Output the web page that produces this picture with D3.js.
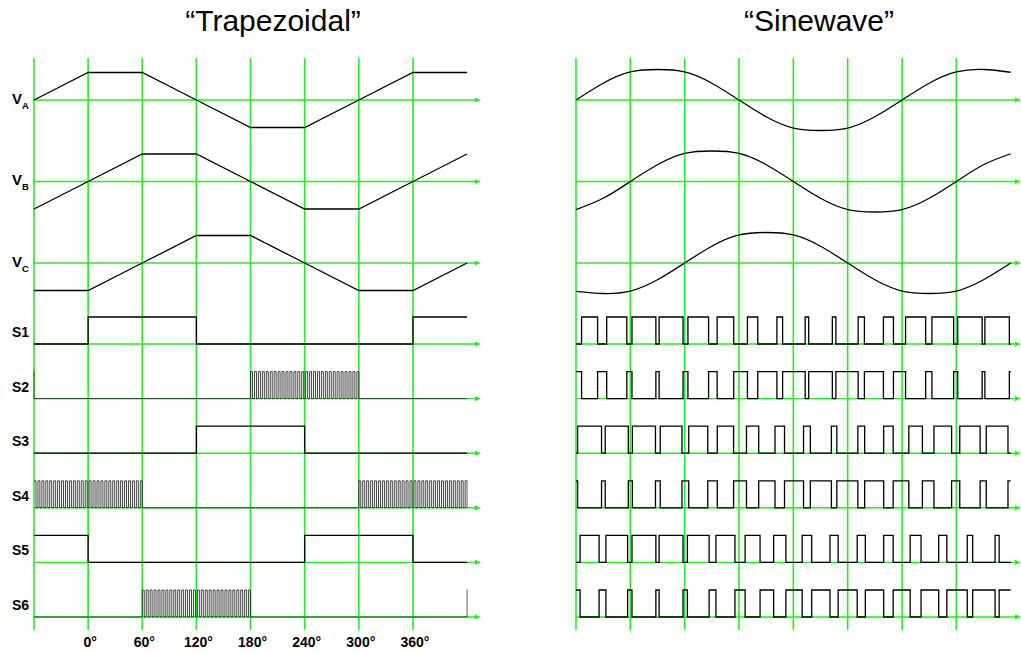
<!DOCTYPE html>
<html>
<head>
<meta charset="utf-8">
<script src="https://d3js.org/d3.v7.min.js"></script>
<style>
    body { margin: 0; background: #fff; }
    svg { display: block; font-family: "Liberation Sans", Arial, sans-serif; }
</style>
</head>
<body>
<svg id="chart" width="1021" height="651"></svg>
<script>
    // electrical angle, degrees
    const gridAngles = [-60, 0, 60, 120, 180, 240, 300, 360];
    const tickAngles = [0, 60, 120, 180, 240, 300, 360];
    const tickLabels = ['0°', '60°', '120°', '180°', '240°', '300°', '360°'];

    const phaseNames = ['A', 'B', 'C'];
    const switchNames = ['S1', 'S2', 'S3', 'S4', 'S5', 'S6'];

    // trapezoidal back emf, corner points
    const trapAngles = [-60, 0, 60, 120, 180, 240, 300, 360, 420];
    const trapVA = [0, 1, 1, 0, -1, -1, 0, 1, 1];
    const trapVB = [-1, 0, 1, 1, 0, -1, -1, 0, 1];
    const trapVC = [-1, -1, 0, 1, 1, 0, -1, -1, 0];

    // sinewave, read every 30 deg
    const sineAngles = [-60, -30, 0, 30, 60, 90, 120, 150, 180, 210, 240, 270, 300, 330, 360, 390, 420];
    const sineVA = [0, 0.55, 0.92, 1, 0.92, 0.55, 0, -0.55, -0.92, -1, -0.92, -0.55, 0, 0.55, 0.92, 1, 0.91];
    const sineVB = [-0.92, -0.55, 0, 0.55, 0.92, 1, 0.92, 0.55, 0, -0.55, -0.92, -1, -0.92, -0.55, 0, 0.55, 0.91];
    const sineVC = [-0.93, -1, -0.92, -0.55, 0, 0.55, 0.92, 1, 0.92, 0.55, 0, -0.55, -0.92, -1, -0.92, -0.55, 0];

    // six-step commutation: [from, to, state]  0 off, 1 on, 2 chopped
    const trapS1 = [[-60, 0, 0], [0, 120, 1], [120, 360, 0], [360, 420, 1]];
    const trapS2 = [[-180, -60, 2], [-60, 180, 0], [180, 300, 2], [300, 420, 0]];
    const trapS3 = [[-60, 120, 0], [120, 240, 1], [240, 420, 0]];
    const trapS4 = [[-60, 60, 2], [60, 300, 0], [300, 420, 2]];
    const trapS5 = [[-60, 0, 1], [0, 240, 0], [240, 360, 1], [360, 420, 0]];
    const trapS6 = [[-60, 60, 0], [60, 180, 2], [180, 420, 0], [420, 540, 2]];
    const chopPulses = 28; // per 120 deg

    // sine PWM: pulse width as a fraction of each 30 deg carrier cell
    // S2, S4, S6 are drawn low for that width (complementary)
    const pwmS1 = [0.59, 0.74, 0.88, 0.88, 0.76, 0.61, 0.38, 0.21, 0.13, 0.13, 0.23, 0.37, 0.74, 0.8, 0.9, 0.9];
    const pwmS2 = [0.59, 0.74, 0.88, 0.88, 0.76, 0.61, 0.38, 0.21, 0.13, 0.13, 0.23, 0.37, 0.74, 0.8, 0.9, 0.9];
    const pwmS3 = [0.88, 0.85, 0.85, 0.8, 0.7, 0.6, 0.45, 0.35, 0.25, 0.2, 0.25, 0.35, 0.5, 0.65, 0.75, 0.8];
    const pwmS4 = [0.88, 0.85, 0.85, 0.8, 0.7, 0.6, 0.45, 0.35, 0.25, 0.2, 0.25, 0.35, 0.5, 0.65, 0.75, 0.8];
    const pwmS5 = [0.7, 0.8, 0.88, 0.88, 0.8, 0.7, 0.55, 0.45, 0.35, 0.3, 0.3, 0.35, 0.4, 0.3, 0.2, 0.15];
    const pwmS6 = [0.7, 0.8, 0.88, 0.88, 0.8, 0.7, 0.55, 0.45, 0.35, 0.3, 0.3, 0.35, 0.4, 0.3, 0.2, 0.15];

    const green = '#22ee22';
    const svg = d3.select('#chart');

    const xL = d3.scaleLinear().domain([-60, 420]).range([34, 467.1]);
    const xR = d3.scaleLinear().domain([-60, 420]).range([576, 1010.7]);
    const yPhase = d3.scalePoint().domain(phaseNames).range([100, 263]);
    const ySwitch = d3.scalePoint().domain(switchNames).range([344, 617]);
    const trapAmp = d3.scaleLinear().domain([-1, 1]).range([27.5, -27.5]);
    const sineAmp = d3.scaleLinear().domain([-1, 1]).range([30.5, -30.5]);
    const level = d3.scaleLinear().domain([0, 1]).range([0, -27]);

    // titles
    svg.selectAll('text.title')
        .data([['\u201cTrapezoidal\u201d', 273], ['\u201cSinewave\u201d', 819]])
        .join('text')
        .attr('class', 'title')
        .attr('x', d => d[1])
        .attr('y', 31)
        .attr('text-anchor', 'middle')
        .attr('font-size', 30)
        .text(d => d[0]);

    function drawGrid(x, arrowTip) {
        const g = svg.append('g');
        g.selectAll('line.v')
            .data(gridAngles)
            .join('line')
            .attr('class', 'v')
            .attr('x1', d => x(d)).attr('x2', d => x(d))
            .attr('y1', 58).attr('y2', 630)
            .attr('stroke', green)
            .attr('stroke-width', 1.6);

        const rows = phaseNames.map(yPhase).concat(switchNames.map(ySwitch));
        g.selectAll('line.h')
            .data(rows)
            .join('line')
            .attr('class', 'h')
            .attr('x1', x(-60)).attr('x2', arrowTip - 4)
            .attr('y1', d => d).attr('y2', d => d)
            .attr('stroke', green)
            .attr('stroke-width', 1.4);
        g.selectAll('path')
            .data(rows)
            .join('path')
            .attr('d', d => `M${arrowTip},${d}L${arrowTip - 6},${d - 2.6}L${arrowTip - 6},${d + 2.6}Z`)
            .attr('fill', green);
    }

    drawGrid(xL, 481);
    drawGrid(xR, 1021);

    // phase voltages
    const trapData = [trapVA, trapVB, trapVC];
    const sineData = [sineVA, sineVB, sineVC];

    phaseNames.forEach((p, k) => {
        const y0 = yPhase(p);
        svg.append('path')
            .attr('d', d3.line()
                .x((d, i) => xL(trapAngles[i]))
                .y(d => y0 + trapAmp(d))(trapData[k]))
            .attr('fill', 'none')
            .attr('stroke', '#000')
            .attr('stroke-width', 1.3);

        svg.append('path')
            .attr('d', d3.line()
                .curve(d3.curveNatural)
                .x((d, i) => xR(sineAngles[i]))
                .y(d => y0 + sineAmp(d))(sineData[k]))
            .attr('fill', 'none')
            .attr('stroke', '#000')
            .attr('stroke-width', 1.3);

        const lab = svg.append('text')
            .attr('x', 12)
            .attr('y', y0 + 3.5)
            .attr('font-weight', 'bold')
            .attr('font-size', 15);
        lab.append('tspan').text('V');
        lab.append('tspan').attr('font-size', 9.5).attr('dy', 5).text(p);
    });

    // switch signals, left: six-step with chopping
    svg.append('clipPath').attr('id', 'clipL')
        .append('rect')
        .attr('x', xL(-60) - 0.7).attr('y', 0)
        .attr('width', xL(420) - xL(-60) + 1.4).attr('height', 651);

    function sixStepPoints(segs) {
        const pts = [];
        segs.forEach(([a0, a1, s]) => {
            if (s < 2) {
                pts.push([a0, s]);
            } else {
                const n = 2 * chopPulses * (a1 - a0) / 120;
                for (let i = 0; i < n; i++) pts.push([a0 + i * (a1 - a0) / (n - 1), i % 2 ? 0 : 1]);
            }
        });
        const last = segs[segs.length - 1];
        pts.push([last[1], pts[pts.length - 1][1]]);
        return pts;
    }

    function carrierPoints(widths, inverted) {
        const base = inverted ? 1 : 0;
        const pulse = 1 - base;
        const pts = [[-60, base]];
        widths.forEach((f, i) => {
            const c = -60 + 30 * i + 15;
            const h = 15 * f;
            pts.push([c - h, pulse], [c + h, base]);
        });
        pts.push([420, base]);
        return pts;
    }

    const trapSwitch = [trapS1, trapS2, trapS3, trapS4, trapS5, trapS6];
    const sineSwitch = [pwmS1, pwmS2, pwmS3, pwmS4, pwmS5, pwmS6];

    switchNames.forEach((s, k) => {
        const y0 = ySwitch(s);
        const chopped = trapSwitch[k].some(d => d[2] === 2);
        svg.append('path')
            .attr('clip-path', 'url(#clipL)')
            .attr('d', d3.line()
                .curve(d3.curveStepAfter)
                .x(d => xL(d[0]))
                .y(d => y0 + level(d[1]))(sixStepPoints(trapSwitch[k])))
            .attr('fill', 'none')
            .attr('stroke', chopped ? '#222' : '#000')
            .attr('stroke-width', chopped ? 0.85 : 1.3);

        svg.append('path')
            .attr('d', d3.line()
                .curve(d3.curveStepAfter)
                .x(d => xR(d[0]))
                .y(d => y0 + level(d[1]))(carrierPoints(sineSwitch[k], k % 2 === 1)))
            .attr('fill', 'none')
            .attr('stroke', '#000')
            .attr('stroke-width', 1.3);

        svg.append('text')
            .attr('x', 12)
            .attr('y', y0 - 7)
            .attr('font-weight', 'bold')
            .attr('font-size', 14)
            .text(s);
    });

    // angle labels
    svg.selectAll('text.tick')
        .data(tickAngles)
        .join('text')
        .attr('class', 'tick')
        .attr('x', d => xL(d) + 2)
        .attr('y', 647)
        .attr('text-anchor', 'middle')
        .attr('font-weight', 'bold')
        .attr('font-size', 14)
        .text((d, i) => tickLabels[i]);
</script>
</body>
</html>
